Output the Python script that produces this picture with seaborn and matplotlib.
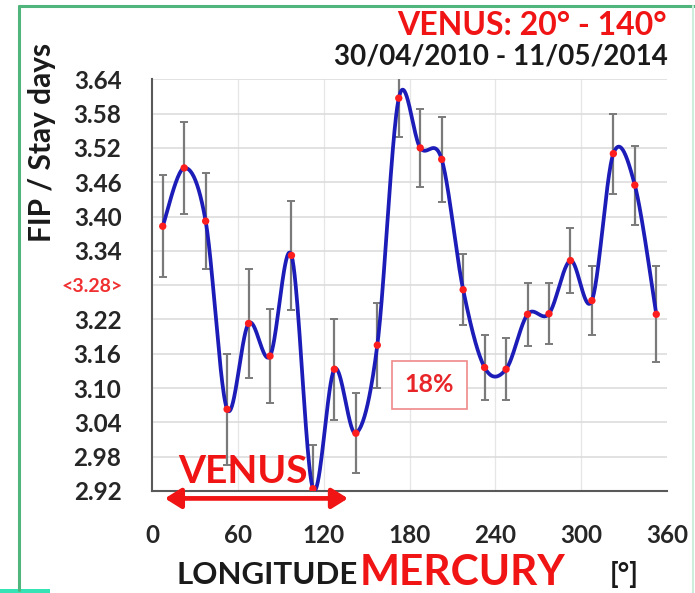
import numpy as np
import pandas as pd
import matplotlib
matplotlib.use("Agg")
import matplotlib.pyplot as plt
import matplotlib.transforms as mtransforms
from matplotlib.lines import Line2D
from matplotlib.patches import Rectangle
import seaborn as sns

# Mercury longitude bins (degrees) and mean FIP / stay-days per bin
longitude = [7.5, 22.5, 37.5, 52.5, 67.5, 82.5, 97.5, 112.5, 127.5, 142.5, 157.5, 172.5,
             187.5, 202.5, 217.5, 232.5, 247.5, 262.5, 277.5, 292.5, 307.5, 322.5, 337.5, 352.5]
fip = [3.383, 3.485, 3.392, 3.063, 3.213, 3.156, 3.332, 2.924, 3.133, 3.021, 3.175, 3.607,
       3.520, 3.500, 3.272, 3.136, 3.133, 3.229, 3.230, 3.323, 3.253, 3.510, 3.455, 3.229]
fip_err = [0.089, 0.080, 0.084, 0.097, 0.095, 0.082, 0.095, 0.077, 0.088, 0.070, 0.074, 0.068,
           0.068, 0.074, 0.062, 0.057, 0.054, 0.055, 0.053, 0.057, 0.060, 0.070, 0.069, 0.084]

y_ticks = [2.92, 2.98, 3.04, 3.10, 3.16, 3.22, 3.28, 3.34, 3.40, 3.46, 3.52, 3.58, 3.64]
x_ticks = [0, 60, 120, 180, 240, 300, 360]
mean_value = 3.28
venus_range = (9, 137)

W, H = 695, 593
FONT = ["Lato", "DejaVu Sans"]


def smooth_path(x, y, n=40):
    """Catmull-Rom smoothing through the points, like a spreadsheet 'smoothed line'."""
    x = np.asarray(x, float)
    y = np.asarray(y, float)
    px = np.concatenate([[x[0]], x, [x[-1]]])
    py = np.concatenate([[y[0]], y, [y[-1]]])
    xs, ys = [], []
    t = np.linspace(0, 1, n, endpoint=False)
    for i in range(1, len(px) - 2):
        for arr, out in ((px, xs), (py, ys)):
            p0, p1, p2, p3 = arr[i - 1], arr[i], arr[i + 1], arr[i + 2]
            out.append(0.5 * ((2 * p1) + (-p0 + p2) * t
                              + (2 * p0 - 5 * p1 + 4 * p2 - p3) * t ** 2
                              + (-p0 + 3 * p1 - 3 * p2 + p3) * t ** 3))
    xs.append([x[-1]])
    ys.append([y[-1]])
    return np.concatenate(xs), np.concatenate(ys)


def fx(px):
    return px / W


def fy(py):
    return 1 - py / H


sns.set_theme(style="white")
plt.rcParams["font.family"] = FONT
plt.rcParams["font.weight"] = "bold"

fig = plt.figure(figsize=(W / 100, H / 100), dpi=100)
fig.patch.set_facecolor("white")
ax = fig.add_axes([fx(152), fy(491), (667 - 152) / W, (491 - 79.3) / H])

df = pd.DataFrame({"longitude": longitude, "fip": fip, "err": fip_err})
sx, sy = smooth_path(df["longitude"], df["fip"])
curve = pd.DataFrame({"longitude": sx, "fip": sy})

ax.errorbar(df["longitude"], df["fip"], yerr=df["err"], fmt="none",
            ecolor="#7a7a7a", elinewidth=1.6, capsize=3, capthick=1.4, zorder=2)
sns.lineplot(data=curve, x="longitude", y="fip", ax=ax, color="#1c1cb8",
             linewidth=2.7, sort=False, estimator=None, zorder=3)
sns.scatterplot(data=df, x="longitude", y="fip", ax=ax, color="#ff1e1e",
                s=28, edgecolor="none", zorder=4)

ax.set_xlim(0, 360)
ax.set_ylim(2.92, 3.64)
ax.set_xticks(x_ticks)
ax.set_yticks(y_ticks)
ax.set_xticklabels([str(v) for v in x_ticks])
ax.set_yticklabels(["" if abs(v - mean_value) < 1e-9 else f"{v:.2f}" for v in y_ticks])
ax.set_xlabel("")
ax.set_ylabel("")

ax.grid(True, axis="y", color="#dadada", linewidth=1.1)
ax.grid(True, axis="x", color="#e6e6e6", linewidth=0.9)
for gl in (ax.xaxis.get_gridlines()[0], ax.xaxis.get_gridlines()[-1]):
    gl.set_visible(False)
ax.set_axisbelow(True)

for side in ("top", "right"):
    ax.spines[side].set_visible(False)
for side in ("left", "bottom"):
    ax.spines[side].set_color("#595959")
    ax.spines[side].set_linewidth(1.5)

ax.tick_params(axis="y", direction="in", length=6, width=1.3, color="#595959",
               pad=22, labelsize=17.5, labelcolor="#262626")
ax.tick_params(axis="x", direction="in", length=6, width=1.3, color="#595959",
               pad=24, labelsize=17.5, labelcolor="#262626")
for lab in ax.get_xticklabels() + ax.get_yticklabels():
    lab.set_fontweight("bold")

# mean marker on the y axis
fig.text(fx(92), fy(286), f"<{mean_value:.2f}>", color="#f03030", fontsize=14,
         fontweight="bold", ha="center", va="center")

# axis titles
fig.text(fx(42), fy(142), "FIP / Stay days", rotation=90, fontsize=21.5,
         fontweight="bold", color="#1a1a1a", ha="center", va="center")
fig.text(fx(358), fy(584), "LONGITUDE", fontsize=22.5, fontweight="bold",
         color="#1a1a1a", ha="right", va="baseline")
fig.text(fx(360), fy(585), "MERCURY", fontsize=30.5, fontweight="bold",
         color="#f01414", ha="left", va="baseline")
fig.text(fx(624), fy(583), "[°]", fontsize=20, fontweight="bold",
         color="#1a1a1a", ha="center", va="baseline")

# headings
fig.text(fx(667), fy(35), "VENUS: 20° - 140°", fontsize=23, fontweight="bold",
         color="#f01414", ha="right", va="baseline")
fig.text(fx(668), fy(65), "30/04/2010 - 11/05/2014", fontsize=20, fontweight="bold",
         color="#1a1a1a", ha="right", va="baseline")

# Venus span annotation
ax.text(18, 2.934, "VENUS", fontsize=28, fontweight="bold", color="#f01414",
        ha="left", va="baseline", zorder=5)
trans = mtransforms.blended_transform_factory(ax.transData, ax.transAxes)
ax.annotate("", xy=(venus_range[1], -0.018), xytext=(venus_range[0], -0.018),
            xycoords=trans, textcoords=trans, annotation_clip=False,
            arrowprops=dict(arrowstyle="<|-|>,head_length=0.8,head_width=0.5",
                            color="#f01414", lw=3.4, shrinkA=0, shrinkB=0))

# amplitude box
ax.text(194, 3.106, "18%", fontsize=18, fontweight="bold", color="#e8262a",
        ha="center", va="center", zorder=5,
        bbox=dict(boxstyle="square,pad=0.5", facecolor="white",
                  edgecolor="#f08a8a", linewidth=1.2))

# frame around the panel
fig.add_artist(Line2D([fx(19), fx(19)], [fy(6), fy(590)], color="#4fb57c", lw=2.2))
fig.add_artist(Line2D([fx(19), fx(695)], [fy(6), fy(6)], color="#4fb57c", lw=2.2))
fig.add_artist(Line2D([fx(693), fx(693)], [fy(6), fy(593)], color="#cdeedd", lw=1.5))
fig.add_artist(Rectangle((0, 0), fx(50), 4 / H, transform=fig.transFigure,
                         facecolor="#35e3b4", edgecolor="none"))

fig.savefig("out.png", dpi=100, facecolor="white")
